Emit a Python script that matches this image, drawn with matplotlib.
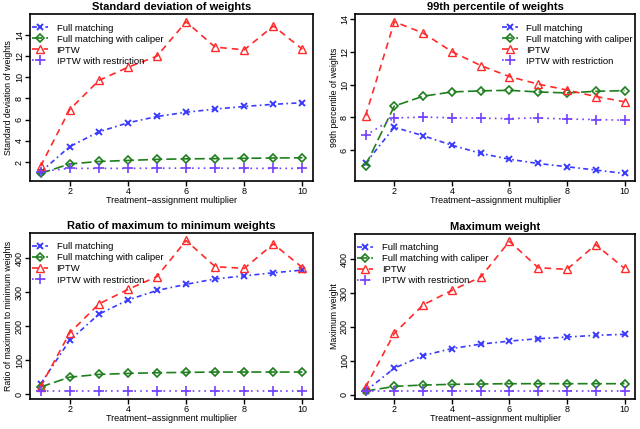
import matplotlib
matplotlib.use('Agg')
import matplotlib.pyplot as plt

plt.rcParams['font.family'] = ['Liberation Sans', 'DejaVu Sans']

x = list(range(1, 11))
methods = ['Full matching', 'Full matching with caliper', 'IPTW', 'IPTW with restriction']

sd_full = [1.05, 3.45, 4.85, 5.7, 6.3, 6.7, 7.0, 7.25, 7.45, 7.6]
sd_cal = [0.92, 1.82, 2.05, 2.15, 2.25, 2.3, 2.32, 2.35, 2.38, 2.4]
sd_iptw = [1.6, 6.95, 9.7, 10.95, 12.0, 15.25, 12.85, 12.6, 14.85, 12.65]
sd_rest = [1.1, 1.4, 1.4, 1.4, 1.42, 1.42, 1.42, 1.4, 1.4, 1.4]

p99_full = [5.2, 7.4, 6.88, 6.3, 5.8, 5.44, 5.18, 4.98, 4.78, 4.57]
p99_cal = [5.05, 8.7, 9.3, 9.56, 9.63, 9.66, 9.56, 9.5, 9.6, 9.64]
p99_iptw = [8.1, 13.86, 13.17, 12.03, 11.18, 10.5, 10.04, 9.68, 9.28, 8.96]
p99_rest = [6.9, 7.97, 8.02, 7.98, 7.95, 7.93, 7.97, 7.9, 7.87, 7.83]

ratio_full = [30, 158, 235, 277, 305, 323, 339, 348, 357, 365]
ratio_cal = [21, 50, 58, 61, 63, 64, 65, 65, 65, 65]
ratio_iptw = [22, 180, 265, 308, 346, 452, 375, 370, 442, 372]
ratio_rest = [8, 8, 8, 8, 8, 8, 8, 8, 8, 8]

max_full = [10, 78, 115, 136, 149, 158, 165, 170, 175, 178]
max_cal = [10, 24, 28, 30, 31, 32, 32, 32, 32, 32]
max_iptw = [22, 181, 265, 308, 347, 453, 375, 370, 443, 373]
max_rest = [9, 9, 9, 9, 9, 9, 9, 9, 9, 9]

styles = [
    dict(color='#3a3aff', ls=(0, (3, 2, 1, 2)), marker='x', mfc='none', ms=4.5, mew=1.4),
    dict(color='#1f7f1f', ls=(0, (6, 2.5)), marker='D', mfc='none', ms=4, mew=1.2),
    dict(color='#ff2a2a', ls=(0, (4, 3)), marker='^', mfc='none', ms=5.5, mew=1.0),
    dict(color='#7340ff', ls=(0, (1, 2.5)), marker='+', ms=6.5, mew=1.2),
]

panels = [
    ('Standard deviation of weights', 'Standard deviation of weights',
     [sd_full, sd_cal, sd_iptw, sd_rest], [2, 4, 6, 8, 10, 12, 14],
     [0.047, 0.578, 0.442, 0.389], 'upper left'),
    ('99th percentile of weights', '99th percentile of weights',
     [p99_full, p99_cal, p99_iptw, p99_rest], [6, 8, 10, 12, 14],
     [0.555, 0.578, 0.437, 0.389], 'upper right'),
    ('Ratio of maximum to minimum weights', 'Ratio of maximum to minimum weights',
     [ratio_full, ratio_cal, ratio_iptw, ratio_rest], [0, 100, 200, 300, 400],
     [0.047, 0.070, 0.442, 0.387], 'upper left'),
    ('Maximum weight', 'Maximum weight',
     [max_full, max_cal, max_iptw, max_rest], [0, 100, 200, 300, 400],
     [0.555, 0.070, 0.437, 0.385], 'upper left'),
]

fig = plt.figure(figsize=(6.4, 4.29), dpi=100)
for title, ylab, series, yt, pos, loc in panels:
    ax = fig.add_axes(pos)
    for vals, name, st in zip(series, methods, styles):
        ax.plot(x, vals, lw=1.2, label=name, **st)
    ax.set_title(title, fontsize=8, fontweight='bold', pad=3)
    ax.set_xlabel('Treatment\u2212assignment multiplier', fontsize=6.5, labelpad=0)
    ax.set_ylabel(ylab, fontsize=6.3, labelpad=1)
    ax.set_xticks([2, 4, 6, 8, 10])
    ax.set_yticks(yt)
    ax.set_xlim(0.64, 10.36)
    ax.tick_params(labelsize=6.5, length=3.5, width=1, pad=1)
    for lab in ax.get_yticklabels():
        lab.set_rotation(90)
        lab.set_va('center')
    for s in ax.spines.values():
        s.set_linewidth(1.2)
    anchor = (0.0, 0.955) if loc == 'upper left' else (1.0, 0.955)
    ax.legend(loc=loc, bbox_to_anchor=anchor, frameon=False, fontsize=6.8,
              handlelength=1.7, labelspacing=0.22, borderaxespad=0.0,
              borderpad=0.2, handletextpad=0.9)

fig.savefig('out.png', dpi=100)
